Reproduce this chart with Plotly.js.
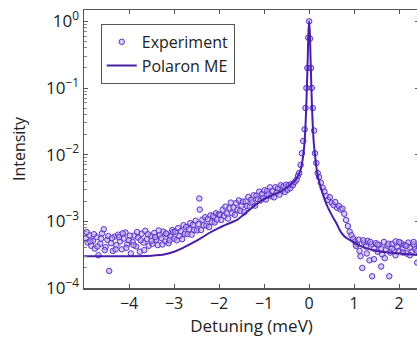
<!DOCTYPE html>
<html>
<head>
<meta charset="utf-8">
<script src="https://cdn.plot.ly/plotly-3.0.1.min.js"></script>
<style>html,body{margin:0;padding:0;overflow:hidden;background:#fff;}</style>
</head>
<body>
<div id="chart"></div>
<script>
// Experiment data (detuning in meV, normalized intensity)
var expX = [
-4.96,-4.92,-4.88,-4.84,-4.80,-4.76,-4.72,-4.68,-4.64,-4.60,-4.56,-4.52,-4.48,-4.44,-4.40,-4.36,-4.32,-4.28,-4.24,-4.20,
-4.16,-4.12,-4.08,-4.04,-4.00,-3.96,-3.92,-3.88,-3.84,-3.80,-3.76,-3.72,-3.68,-3.64,-3.60,-3.56,-3.52,-3.48,-3.44,-3.40,
-3.36,-3.32,-3.28,-3.24,-3.20,-3.16,-3.12,-3.08,-3.04,-3.00,
-4.94,-4.86,-4.78,-4.70,-4.62,-4.54,-4.46,-4.38,-4.30,-4.22,-4.14,-4.06,-3.98,-3.90,-3.82,-3.74,-3.66,-3.58,-3.50,-3.42,
-3.34,-3.26,-3.18,-3.10,-3.02,
-2.97,-2.94,-2.91,-2.88,-2.85,-2.82,-2.79,-2.76,-2.73,-2.70,-2.67,-2.64,-2.61,-2.58,-2.55,-2.52,-2.49,-2.46,-2.44,-2.43,
-2.40,-2.37,-2.34,-2.31,-2.28,-2.25,-2.22,-2.19,-2.16,-2.13,-2.10,-2.07,-2.04,-2.01,
-1.98,-1.95,-1.92,-1.89,-1.86,-1.83,-1.80,-1.77,-1.74,-1.71,-1.68,-1.65,-1.62,-1.59,-1.56,-1.53,-1.50,-1.47,-1.44,-1.41,
-1.38,-1.35,-1.32,-1.29,-1.26,-1.23,-1.20,-1.17,-1.14,-1.11,-1.08,-1.05,-1.02,-0.99,-0.96,-0.93,-0.90,-0.87,-0.84,-0.81,
-0.78,-0.75,-0.72,-0.69,-0.66,-0.63,-0.60,-0.57,-0.54,-0.51,-0.48,-0.45,-0.42,
-0.40,-0.36,-0.32,-0.28,-0.25,-0.22,-0.19,-0.16,-0.13,-0.10,-0.08,-0.06,-0.04,-0.02,0.00,0.02,0.04,0.06,0.08,0.11,
0.13,0.16,0.19,0.22,0.26,0.30,0.34,0.38,
0.42,0.46,0.50,0.54,0.58,0.62,0.66,0.70,0.74,0.78,0.82,0.86,0.90,0.94,0.98,
1.02,1.06,1.10,1.14,1.18,1.22,1.26,1.30,1.34,1.38,1.40,1.44,1.48,1.52,1.56,1.60,1.62,1.66,1.70,1.74,
1.78,1.80,1.84,1.88,1.92,1.96,2.00,2.04,2.08,2.12,2.16,2.20,2.24,2.28,2.32,2.36,2.40,2.44,
1.04,1.12,1.20,1.28,1.36,1.44,1.52,1.60,1.68,1.76,1.84,1.92,2.00,2.08,2.16,2.24,2.32,2.40
];
var expY = [
5.6e-4,4.8e-4,6.2e-4,4.3e-4,5.1e-4,3.9e-4,5.8e-4,3.1e-4,4.6e-4,6.6e-4,7.6e-4,4.1e-4,5.3e-4,1.8e-4,4.7e-4,3.6e-4,5.9e-4,4.4e-4,6.3e-4,5.0e-4,
3.8e-4,5.5e-4,6.8e-4,4.5e-4,5.2e-4,3.3e-4,4.9e-4,6.1e-4,4.2e-4,5.7e-4,3.5e-4,6.5e-4,4.8e-4,7.2e-4,5.4e-4,4.3e-4,6.0e-4,4.6e-4,6.7e-4,5.3e-4,
4.4e-4,6.2e-4,5.6e-4,7.0e-4,5.0e-4,6.4e-4,4.7e-4,5.9e-4,7.4e-4,5.5e-4,
6.9e-4,5.0e-4,6.4e-4,4.2e-4,5.5e-4,3.7e-4,6.0e-4,5.6e-4,3.8e-4,5.8e-4,6.6e-4,4.0e-4,6.1e-4,4.4e-4,6.9e-4,5.2e-4,3.7e-4,6.4e-4,5.1e-4,5.8e-4,
7.3e-4,4.5e-4,6.6e-4,5.2e-4,6.9e-4,
7.0e-4,5.2e-4,7.9e-4,6.0e-4,7.1e-4,5.4e-4,8.75e-4,6.5e-4,8.2e-4,6.4e-4,7.6e-4,9.4e-4,6.3e-4,8.9e-4,7.4e-4,1.02e-3,7.3e-4,9.1e-4,2.2e-3,1.5e-3,
7.4e-4,1.06e-3,8.7e-4,1.15e-3,8.6e-4,1.08e-3,8.2e-4,1.23e-3,9.8e-4,1.2e-3,9.6e-4,1.32e-3,1.06e-3,1.27e-3,
1.25e-3,1.05e-3,1.5e-3,1.2e-3,1.66e-3,1.31e-3,1.1e-3,1.58e-3,1.91e-3,1.32e-3,1.61e-3,1.25e-3,1.88e-3,1.49e-3,2.06e-3,1.43e-3,1.72e-3,1.97e-3,1.37e-3,1.99e-3,
1.69e-3,2.32e-3,1.65e-3,2.11e-3,1.92e-3,2.46e-3,1.72e-3,2.42e-3,2.15e-3,2.78e-3,2.05e-3,2.56e-3,2.25e-3,2.93e-3,2.13e-3,2.86e-3,2.54e-3,3.23e-3,2.39e-3,2.88e-3,
2.29e-3,3.25e-3,2.7e-3,3.14e-3,2.51e-3,3.47e-3,2.9e-3,3.33e-3,2.75e-3,3.54e-3,2.98e-3,3.46e-3,3.15e-3,
3.6e-3,3.5e-3,3.9e-3,4.2e-3,4.8e-3,5.3e-3,7.0e-3,1.05e-2,1.6e-2,2.4e-2,5.0e-2,0.1,0.2,0.57,1.0,0.55,0.2,0.1,0.05,2.3e-2,
1.05e-2,7.5e-3,5.3e-3,4.6e-3,3.8e-3,3.2e-3,2.8e-3,2.4e-3,
2.1e-3,2.3e-3,1.9e-3,1.75e-3,1.95e-3,1.6e-3,1.7e-3,1.5e-3,1.55e-3,1.3e-3,1.05e-3,8.5e-4,7.0e-4,6.2e-4,5.5e-4,
5.0e-4,4.6e-4,5.3e-4,3.0e-4,2.0e-4,4.8e-4,4.2e-4,5.1e-4,2.6e-4,4.5e-4,1.5e-4,3.9e-4,4.7e-4,3.5e-4,4.4e-4,2.1e-4,3.2e-4,4.9e-4,3.8e-4,4.3e-4,
1.5e-4,3.4e-4,4.6e-4,3.7e-4,5.0e-4,4.1e-4,3.6e-4,4.7e-4,3.9e-4,4.4e-4,3.3e-4,4.8e-4,4.0e-4,3.5e-4,4.5e-4,3.8e-4,2.4e-4,4.2e-4,
4.3e-4,3.6e-4,5.2e-4,3.3e-4,4.9e-4,2.7e-4,4.5e-4,3.9e-4,2.8e-4,4.6e-4,3.9e-4,3.1e-4,4.9e-4,3.4e-4,4.3e-4,3.1e-4,4.9e-4,3.6e-4
];

// Polaron master-equation model curve
var modelX = [-5.0,-4.5,-4.0,-3.5,-3.2,-3.0,-2.8,-2.6,-2.4,-2.2,-2.0,-1.8,-1.6,-1.4,-1.2,-1.0,-0.8,-0.6,-0.4,-0.3,-0.2,-0.15,-0.1,-0.07,-0.05,-0.03,-0.015,0.0,
0.015,0.03,0.05,0.07,0.1,0.15,0.2,0.3,0.4,0.5,0.6,0.7,0.8,1.0,1.2,1.5,2.0,2.5];
var modelY = [3.0e-4,3.0e-4,3.0e-4,3.05e-4,3.2e-4,3.5e-4,4.0e-4,4.7e-4,5.6e-4,6.8e-4,8.0e-4,9.2e-4,1.05e-3,1.35e-3,1.75e-3,2.15e-3,2.5e-3,2.9e-3,3.6e-3,4.2e-3,5.6e-3,8.0e-3,1.6e-2,4.0e-2,0.1,0.3,0.7,1.0,
0.7,0.3,0.1,0.04,1.6e-2,7.5e-3,4.5e-3,2.6e-3,1.7e-3,1.25e-3,9.5e-4,7.0e-4,5.8e-4,4.8e-4,4.1e-4,3.6e-4,3.3e-4,3.1e-4];

var xTickVals = [-4,-3,-2,-1,0,1,2];
var xTickText = ['\u22124','\u22123','\u22122','\u22121','0','1','2'];
var yTickVals = [1e-4,1e-3,1e-2,1e-1,1];
var yTickText = ['10<sup>\u22124</sup>','10<sup>\u22123</sup>','10<sup>\u22122</sup>','10<sup>\u22121</sup>','10<sup>0</sup>'];
var yMinorVals = [2e-4,3e-4,4e-4,5e-4,6e-4,7e-4,8e-4,9e-4,2e-3,3e-3,4e-3,5e-3,6e-3,7e-3,8e-3,9e-3,
                  2e-2,3e-2,4e-2,5e-2,6e-2,7e-2,8e-2,9e-2,0.2,0.3,0.4,0.5,0.6,0.7,0.8,0.9];

var fontFam = 'Open Sans, DejaVu Sans, sans-serif';
var axisCol = '#555';

var traces = [
  {
    x: expX, y: expY, type: 'scatter', mode: 'markers', name: 'Experiment',
    marker: {symbol: 'circle', size: 5.5, color: 'rgba(180,160,240,0.55)', line: {color: '#5a30c8', width: 1}}
  },
  {
    x: modelX, y: modelY, type: 'scatter', mode: 'lines', name: 'Polaron ME',
    line: {color: '#4a1fa8', width: 2, shape: 'spline', smoothing: 0.6}
  }
];

var layout = {
  width: 419, height: 341,
  margin: {l: 84, r: 0, t: 10, b: 53},
  paper_bgcolor: '#fff', plot_bgcolor: '#fff',
  font: {family: fontFam, size: 15, color: '#222'},
  showlegend: true,
  legend: {
    x: 0.05, y: 0.95, xanchor: 'left', yanchor: 'top',
    bordercolor: '#555', borderwidth: 1, bgcolor: '#fff',
    font: {family: fontFam, size: 16, color: '#222'},
    tracegroupgap: 0, itemwidth: 30
  },
  xaxis: {
    range: [-5, 2.44], showgrid: false, zeroline: false,
    showline: true, linecolor: axisCol, linewidth: 1.5, mirror: 'ticks',
    ticks: 'inside', ticklen: 4, tickcolor: axisCol,
    tickmode: 'array', tickvals: xTickVals, ticktext: xTickText,
    tickfont: {family: fontFam, size: 16, color: '#222'},
    title: {text: 'Detuning (meV)', font: {family: fontFam, size: 17, color: '#222'}, standoff: 5}
  },
  yaxis: {
    type: 'log', range: [-4, 0.17], showgrid: false, zeroline: false,
    showline: true, linecolor: axisCol, linewidth: 1.5, mirror: 'ticks',
    ticks: 'inside', ticklen: 4, tickcolor: axisCol,
    tickmode: 'array', tickvals: yTickVals, ticktext: yTickText,
    minor: {tickmode: 'array', tickvals: yMinorVals, ticks: 'inside', ticklen: 2.5, tickcolor: '#888', showgrid: false},
    tickfont: {family: fontFam, size: 17, color: '#222'},
    title: {text: 'Intensity', font: {family: fontFam, size: 16, color: '#222'}, standoff: 16}
  }
};

Plotly.newPlot('chart', traces, layout, {displayModeBar: false, staticPlot: true});
</script>
</body>
</html>
